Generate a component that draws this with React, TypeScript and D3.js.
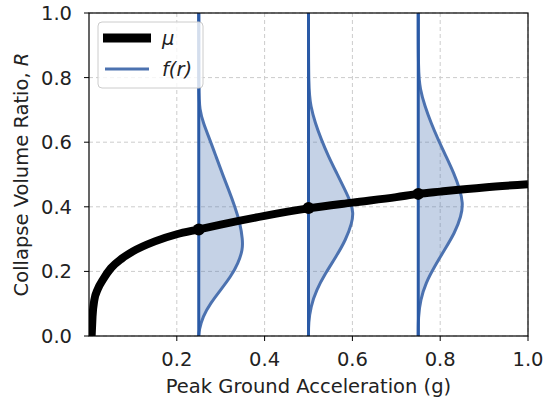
import React from "react";
import * as d3 from "d3";

const xTicks = [0.2, 0.4, 0.6, 0.8, 1.0];
const yTicks = [0.0, 0.2, 0.4, 0.6, 0.8, 1.0];

// mean curve mu(PGA)
const muX = [0.006, 0.008, 0.012, 0.02, 0.032, 0.05, 0.075, 0.1, 0.15, 0.2, 0.25, 0.3, 0.4, 0.5, 0.6, 0.7, 0.75, 0.8, 0.9, 1.0];
const muY = [0.0, 0.06, 0.11, 0.145, 0.175, 0.21, 0.24, 0.262, 0.293, 0.315, 0.33, 0.345, 0.372, 0.395, 0.413, 0.43, 0.44, 0.447, 0.46, 0.47];

// PGA levels where distributions are shown
const pgaLevels = [0.25, 0.5, 0.75];
const muAtLevels = [0.33, 0.396, 0.44];

// density outlines: r values and horizontal extent (in g units)
const dens1R = [0.0, 0.019, 0.06, 0.102, 0.143, 0.184, 0.226, 0.267, 0.298, 0.35, 0.402, 0.453, 0.505, 0.557, 0.609, 0.66, 0.702, 0.75, 1.0];
const dens1W = [0.0, 0.001, 0.009, 0.027, 0.05, 0.073, 0.09, 0.1, 0.1, 0.094, 0.082, 0.068, 0.053, 0.039, 0.025, 0.01, 0.002, 0.0, 0.0];
const dens2R = [0.0, 0.04, 0.091, 0.143, 0.195, 0.246, 0.298, 0.35, 0.381, 0.412, 0.453, 0.505, 0.557, 0.609, 0.66, 0.712, 0.76, 1.0];
const dens2W = [0.0, 0.0, 0.005, 0.018, 0.039, 0.063, 0.085, 0.099, 0.102, 0.097, 0.083, 0.064, 0.045, 0.029, 0.015, 0.005, 0.0, 0.0];
const dens3R = [0.0, 0.06, 0.112, 0.164, 0.215, 0.267, 0.319, 0.371, 0.412, 0.453, 0.505, 0.557, 0.609, 0.66, 0.712, 0.764, 0.82, 1.0];
const dens3W = [0.0, 0.0, 0.005, 0.017, 0.037, 0.06, 0.083, 0.098, 0.102, 0.095, 0.081, 0.063, 0.045, 0.029, 0.015, 0.004, 0.0, 0.0];

const densR = [dens1R, dens2R, dens3R];
const densW = [dens1W, dens2W, dens3W];

const W = 545;
const H = 403;
const M = { left: 89, right: 528, top: 13, bottom: 336 };
const FONT = "DejaVu Sans, sans-serif";
const FS = 19.5;

export default function App() {
  const x = d3.scaleLinear().domain([0, 1]).range([M.left, M.right]);
  const y = d3.scaleLinear().domain([0, 1]).range([M.bottom, M.top]);

  const muLine = d3
    .line<number>()
    .x((_, i) => x(muX[i]))
    .y((d) => y(d))
    .curve(d3.curveMonotoneX);

  const blue = "#4c72b0";
  const darkBlue = "#2a5aa6";

  return (
    <svg
      width={W}
      height={H}
      style={{ position: "absolute", left: 0, top: 0, background: "white" }}
      fontFamily={FONT}
    >
      <defs>
        <clipPath id="plotclip">
          <rect x={M.left} y={M.top} width={M.right - M.left} height={M.bottom - M.top} />
        </clipPath>
      </defs>
      {/* grid */}
      {xTicks.map((t) => (
        <line key={"gx" + t} x1={x(t)} x2={x(t)} y1={M.top} y2={M.bottom} stroke="#cccccc" strokeWidth={1} strokeDasharray="4,3" />
      ))}
      {yTicks.map((t) => (
        <line key={"gy" + t} x1={M.left} x2={M.right} y1={y(t)} y2={y(t)} stroke="#cccccc" strokeWidth={1} strokeDasharray="4,3" />
      ))}

      <g clipPath="url(#plotclip)">
        {pgaLevels.map((p, k) => {
          const pts = densR[k].map((r, i) => [x(p + densW[k][i]), y(r)] as [number, number]);
          const curve = d3
            .line<[number, number]>()
            .x((d) => d[0])
            .y((d) => d[1])
            .curve(d3.curveBasis);
          const area = d3
            .area<[number, number]>()
            .y((d) => d[1])
            .x0(x(p))
            .x1((d) => d[0])
            .curve(d3.curveBasis);
          return (
            <g key={"d" + k}>
              <path d={area(pts) || ""} fill={blue} fillOpacity={0.32} stroke="none" />
              <path d={curve(pts) || ""} fill="none" stroke={blue} strokeWidth={3} />
              <line x1={x(p)} x2={x(p)} y1={y(0)} y2={y(1)} stroke={darkBlue} strokeWidth={3} />
            </g>
          );
        })}
        <path d={muLine(muY) || ""} fill="none" stroke="black" strokeWidth={8} strokeLinejoin="round" />
        {pgaLevels.map((p, k) => (
          <circle key={"c" + k} cx={x(p)} cy={y(muAtLevels[k])} r={6} fill="black" />
        ))}
      </g>

      {/* frame */}
      <rect x={M.left} y={M.top} width={M.right - M.left} height={M.bottom - M.top} fill="none" stroke="black" strokeWidth={1.2} />

      {/* ticks */}
      {xTicks.map((t) => (
        <g key={"tx" + t}>
          <line x1={x(t)} x2={x(t)} y1={M.bottom} y2={M.bottom + 5} stroke="black" strokeWidth={1} />
          <text x={x(t)} y={366} textAnchor="middle" fontSize={FS} fill="#222">
            {t.toFixed(1)}
          </text>
        </g>
      ))}
      {yTicks.map((t) => (
        <g key={"ty" + t}>
          <line x1={M.left - 5} x2={M.left} y1={y(t)} y2={y(t)} stroke="black" strokeWidth={1} />
          <text x={72} y={y(t) + 7} textAnchor="end" fontSize={FS} fill="#222">
            {t.toFixed(1)}
          </text>
        </g>
      ))}

      {/* axis labels */}
      <text x={(M.left + M.right) / 2} y={393} textAnchor="middle" fontSize={FS} fill="#222">
        Peak Ground Acceleration (g)
      </text>
      <text
        transform={`translate(28,${(M.top + M.bottom) / 2}) rotate(-90)`}
        textAnchor="middle"
        fontSize={FS}
        fill="#222"
      >
        Collapse Volume Ratio, <tspan fontStyle="italic">R</tspan>
      </text>

      {/* legend */}
      <rect x={98} y={22} width={105} height={66} rx={4} fill="white" fillOpacity={0.8} stroke="#cccccc" strokeWidth={1} />
      <line x1={103} x2={151} y1={38} y2={38} stroke="black" strokeWidth={9} />
      <line x1={105} x2={149} y1={69} y2={69} stroke={blue} strokeWidth={3} />
      <text x={162} y={45} fontSize={FS} fontStyle="italic" fill="#222">μ</text>
      <text x={162} y={76} fontSize={FS} fontStyle="italic" fill="#222">f(r)</text>
    </svg>
  );
}
